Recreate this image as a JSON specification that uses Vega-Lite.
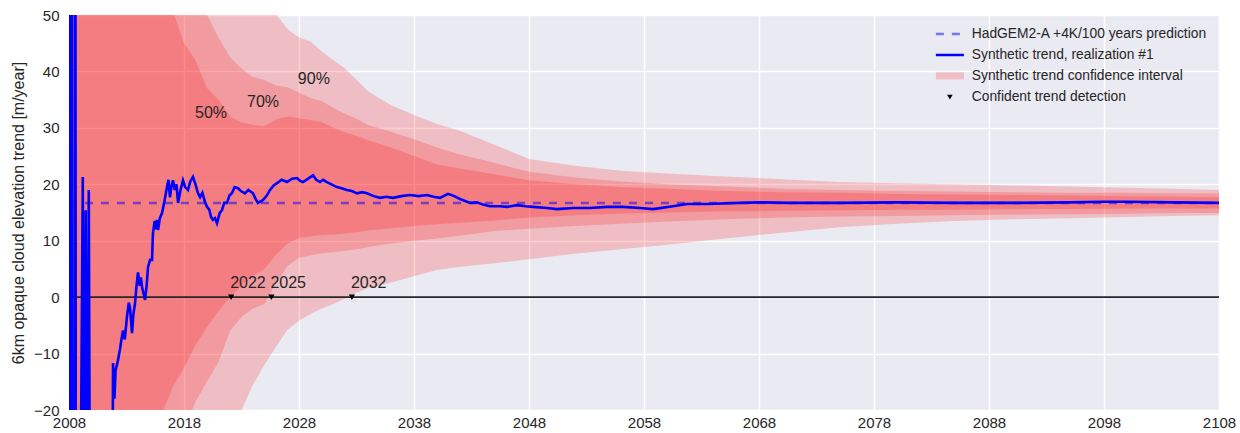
{
  "$schema": "https://vega.github.io/schema/vega-lite/v6.json",
  "width": 1150,
  "height": 395,
  "autosize": "none",
  "padding": {"left": 69, "top": 15, "right": 21, "bottom": 23},
  "background": "white",
  "config": {
    "view": {"fill": "#eaeaf2", "stroke": null},
    "font": "Liberation Sans",
    "axis": {
      "domain": false, "ticks": false, "tickSize": 0,
      "gridColor": "white", "gridWidth": 1.5,
      "labelColor": "#262626", "labelFontSize": 15, "labelFont": "Liberation Sans",
      "titleColor": "#262626", "titleFontWeight": "normal", "titleFontSize": 16, "titleFont": "Liberation Sans",
      "labelFlush": false, "labelOverlap": false
    }
  },
  "datasets": {
    "bands": [
      {"year": 2008, "lo90": -100, "lo70": -80, "lo50": -60, "hi50": 90, "hi70": 110, "hi90": 130},
      {"year": 2010, "lo90": -90, "lo70": -70, "lo50": -55, "hi50": 85, "hi70": 100, "hi90": 120},
      {"year": 2012, "lo90": -75, "lo70": -60, "lo50": -50, "hi50": 78, "hi70": 90, "hi90": 110},
      {"year": 2014, "lo90": -62, "lo70": -50, "lo50": -42, "hi50": 68, "hi70": 80, "hi90": 95},
      {"year": 2015, "lo90": -57, "lo70": -45, "lo50": -32, "hi50": 62, "hi70": 74, "hi90": 90},
      {"year": 2016, "lo90": -50, "lo70": -40, "lo50": -21, "hi50": 56, "hi70": 68, "hi90": 84},
      {"year": 2017, "lo90": -45, "lo70": -28, "lo50": -16, "hi50": 51, "hi70": 64, "hi90": 78},
      {"year": 2018, "lo90": -42, "lo70": -24, "lo50": -12.5, "hi50": 45, "hi70": 60, "hi90": 73},
      {"year": 2019, "lo90": -36, "lo70": -18.5, "lo50": -8.5, "hi50": 42, "hi70": 54, "hi90": 68},
      {"year": 2020, "lo90": -30, "lo70": -15, "lo50": -5.3, "hi50": 37, "hi70": 50, "hi90": 64},
      {"year": 2021, "lo90": -27, "lo70": -11.5, "lo50": -2.5, "hi50": 35, "hi70": 46, "hi90": 60},
      {"year": 2022, "lo90": -24, "lo70": -6, "lo50": 0, "hi50": 32, "hi70": 42.5, "hi90": 57},
      {"year": 2023, "lo90": -20, "lo70": -3.5, "lo50": 2, "hi50": 31, "hi70": 40.5, "hi90": 54.5},
      {"year": 2024, "lo90": -15.5, "lo70": -2, "lo50": 3.8, "hi50": 30.5, "hi70": 39, "hi90": 52.5},
      {"year": 2025, "lo90": -12, "lo70": -1.2, "lo50": 5, "hi50": 30.3, "hi70": 38.5, "hi90": 51},
      {"year": 2026, "lo90": -8.8, "lo70": 2.5, "lo50": 7.5, "hi50": 31.5, "hi70": 37.5, "hi90": 50.2},
      {"year": 2027, "lo90": -5.8, "lo70": 5.5, "lo50": 9.5, "hi50": 32, "hi70": 37.2, "hi90": 47.5},
      {"year": 2028, "lo90": -4.2, "lo70": 7, "lo50": 10.5, "hi50": 31.7, "hi70": 36.2, "hi90": 46},
      {"year": 2029, "lo90": -3, "lo70": 7.4, "lo50": 10.8, "hi50": 31.4, "hi70": 35.3, "hi90": 45.3},
      {"year": 2030, "lo90": -2, "lo70": 7.8, "lo50": 11, "hi50": 31, "hi70": 34.7, "hi90": 43.5},
      {"year": 2031, "lo90": -1.2, "lo70": 8, "lo50": 11.1, "hi50": 30, "hi70": 33.5, "hi90": 42},
      {"year": 2032, "lo90": -0.3, "lo70": 8.2, "lo50": 11.3, "hi50": 29.2, "hi70": 32.5, "hi90": 40.5},
      {"year": 2033, "lo90": 0.8, "lo70": 8.5, "lo50": 11.5, "hi50": 28.6, "hi70": 31.6, "hi90": 38.5},
      {"year": 2034, "lo90": 1.6, "lo70": 8.9, "lo50": 11.8, "hi50": 27.8, "hi70": 30.5, "hi90": 36.5},
      {"year": 2036, "lo90": 2.6, "lo70": 9.5, "lo50": 12.2, "hi50": 26.5, "hi70": 29.3, "hi90": 34},
      {"year": 2038, "lo90": 3.7, "lo70": 10, "lo50": 12.6, "hi50": 25, "hi70": 28, "hi90": 32.3},
      {"year": 2040, "lo90": 4.8, "lo70": 10.4, "lo50": 12.9, "hi50": 23.5, "hi70": 26.5, "hi90": 30.7},
      {"year": 2042, "lo90": 5.4, "lo70": 10.9, "lo50": 13.2, "hi50": 22.8, "hi70": 25.3, "hi90": 29.5},
      {"year": 2045, "lo90": 6.0, "lo70": 11.7, "lo50": 13.6, "hi50": 21.8, "hi70": 23.8, "hi90": 27},
      {"year": 2048, "lo90": 6.7, "lo70": 12.1, "lo50": 14.1, "hi50": 20.7, "hi70": 22.2, "hi90": 24.5},
      {"year": 2052, "lo90": 7.7, "lo70": 12.6, "lo50": 14.5, "hi50": 20.0, "hi70": 21.2, "hi90": 23.3},
      {"year": 2056, "lo90": 8.5, "lo70": 13.0, "lo50": 14.8, "hi50": 19.5, "hi70": 20.5, "hi90": 22.4},
      {"year": 2060, "lo90": 9.3, "lo70": 13.4, "lo50": 15.0, "hi50": 19.2, "hi70": 20.0, "hi90": 21.9},
      {"year": 2065, "lo90": 10.4, "lo70": 13.8, "lo50": 15.2, "hi50": 18.8, "hi70": 19.6, "hi90": 21.4},
      {"year": 2070, "lo90": 11.4, "lo70": 14.1, "lo50": 15.3, "hi50": 18.6, "hi70": 19.2, "hi90": 20.9},
      {"year": 2075, "lo90": 12.4, "lo70": 14.3, "lo50": 15.4, "hi50": 18.5, "hi70": 19.0, "hi90": 20.4},
      {"year": 2080, "lo90": 13.0, "lo70": 14.4, "lo50": 15.5, "hi50": 18.3, "hi70": 18.8, "hi90": 20.2},
      {"year": 2085, "lo90": 13.5, "lo70": 14.5, "lo50": 15.5, "hi50": 18.2, "hi70": 18.7, "hi90": 20.0},
      {"year": 2090, "lo90": 13.8, "lo70": 14.6, "lo50": 15.6, "hi50": 18.1, "hi70": 18.6, "hi90": 19.8},
      {"year": 2095, "lo90": 14.0, "lo70": 14.7, "lo50": 15.6, "hi50": 18.0, "hi70": 18.5, "hi90": 19.6},
      {"year": 2100, "lo90": 14.2, "lo70": 14.8, "lo50": 15.7, "hi50": 17.9, "hi70": 18.5, "hi90": 19.4},
      {"year": 2104, "lo90": 14.4, "lo70": 14.9, "lo50": 15.7, "hi50": 17.8, "hi70": 18.4, "hi90": 19.2},
      {"year": 2108, "lo90": 14.5, "lo70": 14.9, "lo50": 15.7, "hi50": 17.7, "hi70": 18.4, "hi90": 19.0}
    ],
    "pred": [
      {"year": 2008, "v": 16.7},
      {"year": 2108, "v": 16.7}
    ],
    "zero": [
      {"year": 2008, "v": 0},
      {"year": 2108, "v": 0}
    ],
    "trend": [
      {"year": 2008.0, "v": 150}, {"year": 2008.1, "v": -150}, {"year": 2008.2, "v": 150}, {"year": 2008.3, "v": -150},
      {"year": 2008.45, "v": -150}, {"year": 2008.53, "v": 150}, {"year": 2008.63, "v": -150}, {"year": 2009.2, "v": 21.3}, {"year": 2009.3, "v": -60},
      {"year": 2009.45, "v": 15.4}, {"year": 2009.55, "v": -60}, {"year": 2009.72, "v": 19}, {"year": 2009.85, "v": -60},
      {"year": 2011.3, "v": -21}, {"year": 2011.5, "v": -40}, {"year": 2011.8, "v": -25}, {"year": 2011.83, "v": -11.7},
      {"year": 2011.95, "v": -18}, {"year": 2012.05, "v": -13}, {"year": 2012.26, "v": -11.2}, {"year": 2012.45, "v": -9},
      {"year": 2012.6, "v": -7}, {"year": 2012.7, "v": -5.9}, {"year": 2012.85, "v": -7.5}, {"year": 2013.04, "v": -3.5},
      {"year": 2013.2, "v": -1}, {"year": 2013.3, "v": -1.8}, {"year": 2013.48, "v": -6.4}, {"year": 2013.6, "v": -3},
      {"year": 2013.74, "v": -1.1}, {"year": 2013.85, "v": 1.5}, {"year": 2014.0, "v": 4.4}, {"year": 2014.15, "v": 2},
      {"year": 2014.25, "v": 3.5}, {"year": 2014.35, "v": 1.8}, {"year": 2014.5, "v": 0.5}, {"year": 2014.61, "v": -0.5},
      {"year": 2014.75, "v": 2}, {"year": 2014.87, "v": 5.3}, {"year": 2015.05, "v": 6.6}, {"year": 2015.22, "v": 6.6},
      {"year": 2015.3, "v": 11.3}, {"year": 2015.45, "v": 13.5}, {"year": 2015.55, "v": 12}, {"year": 2015.65, "v": 13.7},
      {"year": 2015.74, "v": 11.9}, {"year": 2015.9, "v": 14}, {"year": 2016.09, "v": 14.9}, {"year": 2016.3, "v": 17},
      {"year": 2016.52, "v": 19.5}, {"year": 2016.65, "v": 20.8}, {"year": 2016.78, "v": 17.7}, {"year": 2016.9, "v": 19.5},
      {"year": 2017.04, "v": 20.7}, {"year": 2017.2, "v": 19}, {"year": 2017.35, "v": 20}, {"year": 2017.48, "v": 16.7},
      {"year": 2017.7, "v": 19}, {"year": 2017.91, "v": 20.7}, {"year": 2018.1, "v": 19.5}, {"year": 2018.35, "v": 19.0},
      {"year": 2018.55, "v": 20.5}, {"year": 2018.78, "v": 21.3}, {"year": 2019.0, "v": 20}, {"year": 2019.22, "v": 18.4},
      {"year": 2019.4, "v": 17.7}, {"year": 2019.6, "v": 18.5}, {"year": 2019.8, "v": 17}, {"year": 2020.0, "v": 16.0},
      {"year": 2020.2, "v": 15.5}, {"year": 2020.35, "v": 14.2}, {"year": 2020.52, "v": 13.7}, {"year": 2020.7, "v": 14},
      {"year": 2020.87, "v": 13.1}, {"year": 2021.1, "v": 14.9}, {"year": 2021.3, "v": 15.4}, {"year": 2021.5, "v": 16.7},
      {"year": 2021.74, "v": 16.7}, {"year": 2021.95, "v": 18}, {"year": 2022.17, "v": 18.4}, {"year": 2022.4, "v": 19.5},
      {"year": 2022.7, "v": 19.3}, {"year": 2022.95, "v": 18.8}, {"year": 2023.3, "v": 18.4}, {"year": 2023.6, "v": 19},
      {"year": 2024.0, "v": 18.4}, {"year": 2024.2, "v": 17.5}, {"year": 2024.43, "v": 16.7}, {"year": 2024.87, "v": 17.2},
      {"year": 2025.2, "v": 18}, {"year": 2025.48, "v": 19.0}, {"year": 2025.8, "v": 19.8}, {"year": 2026.09, "v": 20.2},
      {"year": 2026.5, "v": 20.8}, {"year": 2026.96, "v": 20.4}, {"year": 2027.4, "v": 21}, {"year": 2027.83, "v": 21.1},
      {"year": 2028.1, "v": 20.6}, {"year": 2028.35, "v": 20.4}, {"year": 2028.8, "v": 21}, {"year": 2029.22, "v": 21.6},
      {"year": 2029.5, "v": 20.8}, {"year": 2029.83, "v": 20.4}, {"year": 2030.1, "v": 20.8}, {"year": 2030.43, "v": 20.4},
      {"year": 2030.9, "v": 19.9}, {"year": 2031.3, "v": 19.5}, {"year": 2031.7, "v": 19.3}, {"year": 2032.17, "v": 19.0},
      {"year": 2032.6, "v": 18.8}, {"year": 2033.04, "v": 18.4}, {"year": 2033.5, "v": 18.6}, {"year": 2033.91, "v": 18.4},
      {"year": 2034.5, "v": 17.9}, {"year": 2035.04, "v": 17.6}, {"year": 2035.6, "v": 17.8}, {"year": 2036.17, "v": 17.6},
      {"year": 2036.9, "v": 17.9}, {"year": 2037.65, "v": 18.1}, {"year": 2038.4, "v": 17.9}, {"year": 2039.13, "v": 18.1},
      {"year": 2039.7, "v": 17.8}, {"year": 2040.26, "v": 17.6}, {"year": 2040.96, "v": 18.3}, {"year": 2041.5, "v": 17.9},
      {"year": 2042.0, "v": 17.4}, {"year": 2042.87, "v": 16.7}, {"year": 2043.48, "v": 16.8}, {"year": 2044.0, "v": 16.4},
      {"year": 2044.61, "v": 16.1}, {"year": 2045.48, "v": 16.1}, {"year": 2046.09, "v": 16.0}, {"year": 2046.96, "v": 16.3},
      {"year": 2047.7, "v": 16.1}, {"year": 2048.35, "v": 16.0}, {"year": 2049.57, "v": 15.8}, {"year": 2050.43, "v": 15.6},
      {"year": 2051.83, "v": 15.8}, {"year": 2053.3, "v": 15.8}, {"year": 2054.78, "v": 16.0}, {"year": 2056.17, "v": 16.0},
      {"year": 2057.65, "v": 15.8}, {"year": 2058.78, "v": 15.6}, {"year": 2060.52, "v": 16.1}, {"year": 2061.74, "v": 16.5},
      {"year": 2063.48, "v": 16.5}, {"year": 2066.35, "v": 16.7}, {"year": 2068.09, "v": 16.8}, {"year": 2070.7, "v": 16.7},
      {"year": 2075, "v": 16.7}, {"year": 2080, "v": 16.8}, {"year": 2085, "v": 16.7}, {"year": 2090, "v": 16.7},
      {"year": 2095, "v": 16.8}, {"year": 2098, "v": 16.9}, {"year": 2100, "v": 16.9}, {"year": 2104, "v": 16.8},
      {"year": 2108, "v": 16.7}
    ],
    "pct": [
      {"year": 2018.96, "v": 31.7, "label": "50%"},
      {"year": 2023.48, "v": 33.7, "label": "70%"},
      {"year": 2027.9, "v": 37.8, "label": "90%"}
    ],
    "detect": [
      {"year": 2022.1, "label": "2022"},
      {"year": 2025.6, "label": "2025"},
      {"year": 2032.6, "label": "2032"}
    ]
  },
  "encoding": {
    "x": {
      "field": "year", "type": "quantitative",
      "scale": {"domain": [2008, 2108], "nice": false, "zero": false},
      "axis": {"values": [2008, 2018, 2028, 2038, 2048, 2058, 2068, 2078, 2088, 2098, 2108], "format": "d", "title": null, "labelPadding": 5}
    }
  },
  "layer": [
    {
      "data": {"name": "bands"},
      "mark": {"type": "area", "clip": true, "fillOpacity": 0.19},
      "encoding": {
        "y": {
          "field": "lo90", "type": "quantitative",
          "scale": {"domain": [-20, 50], "nice": false, "zero": false},
          "axis": {"values": [-20, -10, 0, 10, 20, 30, 40, 50], "title": "6km opaque cloud elevation trend [m/year]", "labelPadding": 10, "titlePadding": 7}
        },
        "y2": {"field": "hi90"},
        "color": {
          "datum": "Synthetic trend confidence interval", "type": "nominal",
          "scale": {
            "domain": ["HadGEM2-A +4K/100 years prediction", "Synthetic trend, realization #1", "Synthetic trend confidence interval", "Confident trend detection"],
            "range": ["#0000ff", "#0000ff", "#ff0000", "#000000"]
          },
          "legend": {
            "title": null, "orient": "top-right", "offset": 12, "padding": 0,
            "labelFontSize": 13.8, "labelColor": "#262626", "labelFont": "Liberation Sans", "labelLimit": 400,
            "labelOffset": 15, "rowPadding": 6, "symbolSize": 400, "symbolStrokeWidth": 2.5,
            "encode": {
              "symbols": {
                "update": {
                  "shape": {"signal": "datum.value === 'Confident trend detection' ? 'M-0.28,-0.22H0.28L0,0.26Z' : datum.value === 'Synthetic trend confidence interval' ? 'M-1.4,-0.35H1.4V0.35H-1.4Z' : 'M-1.4,0H1.4'"},
                  "fill": {"signal": "datum.value === 'Confident trend detection' ? '#000000' : datum.value === 'Synthetic trend confidence interval' ? '#ff0000' : 'transparent'"},
                  "fillOpacity": {"signal": "datum.value === 'Synthetic trend confidence interval' ? 0.19 : 1"},
                  "stroke": {"signal": "datum.value === 'HadGEM2-A +4K/100 years prediction' || datum.value === 'Synthetic trend, realization #1' ? '#0000ff' : 'transparent'"},
                  "strokeOpacity": {"signal": "datum.value === 'HadGEM2-A +4K/100 years prediction' ? 0.5 : 1"},
                  "strokeDash": {"signal": "datum.value === 'HadGEM2-A +4K/100 years prediction' ? [8, 8] : [1, 0]"},
                  "strokeWidth": {"signal": "datum.value === 'HadGEM2-A +4K/100 years prediction' || datum.value === 'Synthetic trend, realization #1' ? 2.5 : 0"},
                  "opacity": {"value": 1}
                }
              }
            }
          }
        }
      }
    },
    {
      "data": {"name": "bands"},
      "mark": {"type": "area", "clip": true, "fillOpacity": 0.19},
      "encoding": {
        "y": {"field": "lo70", "type": "quantitative"},
        "y2": {"field": "hi70"},
        "color": {"datum": "Synthetic trend confidence interval", "type": "nominal"}
      }
    },
    {
      "data": {"name": "bands"},
      "mark": {"type": "area", "clip": true, "fillOpacity": 0.19},
      "encoding": {
        "y": {"field": "lo50", "type": "quantitative"},
        "y2": {"field": "hi50"},
        "color": {"datum": "Synthetic trend confidence interval", "type": "nominal"}
      }
    },
    {
      "data": {"name": "zero"},
      "mark": {"type": "line", "strokeWidth": 1.6, "color": "#262626"},
      "encoding": {"y": {"field": "v", "type": "quantitative"}}
    },
    {
      "data": {"name": "pred"},
      "mark": {"type": "line", "strokeWidth": 2.5, "strokeDash": [8, 8], "strokeOpacity": 0.5, "color": "#0000ff"},
      "encoding": {"y": {"field": "v", "type": "quantitative"}}
    },
    {
      "data": {"name": "trend"},
      "mark": {"type": "line", "clip": true, "strokeWidth": 2.6},
      "encoding": {
        "y": {"field": "v", "type": "quantitative"},
        "color": {"datum": "Synthetic trend, realization #1", "type": "nominal"}
      }
    },
    {
      "data": {"name": "detect"},
      "mark": {"type": "point", "shape": "triangle-down", "filled": true, "size": 40, "opacity": 1},
      "encoding": {
        "y": {"datum": 0},
        "color": {"datum": "Confident trend detection", "type": "nominal"}
      }
    },
    {
      "data": {"name": "detect"},
      "mark": {"type": "text", "align": "left", "baseline": "alphabetic", "dy": -9, "dx": -1, "fontSize": 16, "color": "#262626", "font": "Liberation Sans"},
      "encoding": {"y": {"datum": 0}, "text": {"field": "label"}}
    },
    {
      "data": {"name": "pct"},
      "mark": {"type": "text", "align": "left", "baseline": "alphabetic", "fontSize": 16, "color": "#262626", "font": "Liberation Sans"},
      "encoding": {"y": {"field": "v", "type": "quantitative"}, "text": {"field": "label"}}
    }
  ]
}
